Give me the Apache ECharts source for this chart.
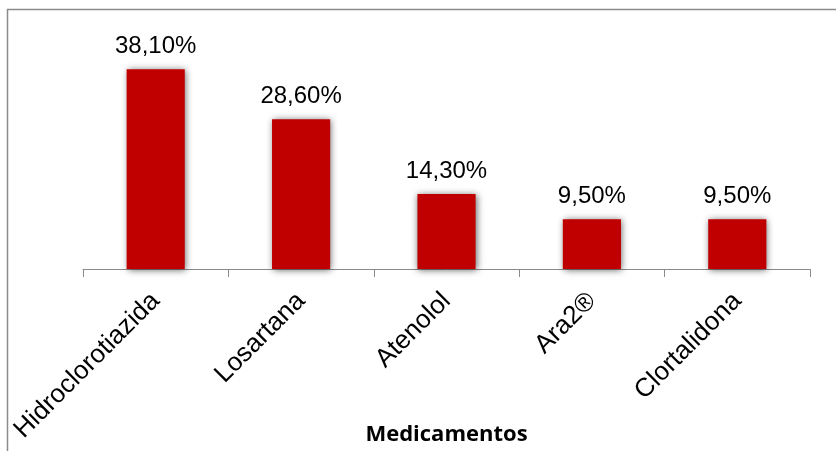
<!DOCTYPE html>
<html>
<head>
<meta charset="utf-8">
<script src="https://cdn.jsdelivr.net/npm/echarts@6/dist/echarts.min.js"></script>
<style>
  html, body { margin: 0; padding: 0; background: #fff; overflow: hidden; }
  #chart { width: 836px; height: 451px; }
</style>
</head>
<body>
<div id="chart"></div>
<script>
// Medication usage shares (percent)
const categories = ['Hidroclorotiazida', 'Losartana', 'Atenolol', 'Ara2®', 'Clortalidona'];
const values = [38.1, 28.6, 14.3, 9.5, 9.5];
const axisTitle = 'Medicamentos';

const chart = echarts.init(document.getElementById('chart'), null, { renderer: 'canvas', width: 836, height: 451 });

chart.setOption({
  animation: false,
  backgroundColor: '#ffffff',
  graphic: [{
    type: 'rect',
    shape: { x: 7.5, y: 9.5, width: 900, height: 500 },
    style: { fill: 'none', stroke: '#8c8c8c', lineWidth: 1.5 },
    silent: true
  }],
  grid: {
    left: 83, right: 26, top: 59.4, bottom: 182,
    containLabel: false,
    outerBoundsMode: 'none'
  },
  xAxis: {
    type: 'category',
    data: categories,
    name: axisTitle,
    nameLocation: 'middle',
    nameGap: 155,
    nameMoveOverlap: false,
    nameTextStyle: { fontFamily: 'Open Sans', fontWeight: 'bold', fontSize: 22, color: '#000' },
    axisLine: { lineStyle: { color: '#8a8a8a', width: 1 } },
    axisTick: { show: true, length: 8, lineStyle: { color: '#8a8a8a' } },
    axisLabel: {
      rotate: 45,
      margin: 28,
      interval: 0,
      fontFamily: 'Liberation Sans',
      fontSize: 26,
      color: '#000'
    }
  },
  yAxis: {
    type: 'value',
    min: 0,
    max: 40,
    show: false,
    splitLine: { show: false }
  },
  series: [{
    type: 'bar',
    data: values,
    barWidth: '40%',
    itemStyle: {
      color: '#c00000',
      shadowColor: 'rgba(0,0,0,0.6)',
      shadowBlur: 7,
      shadowOffsetX: 1,
      shadowOffsetY: 1
    },
    label: {
      show: true,
      position: 'top',
      distance: 11,
      fontFamily: 'Liberation Sans',
      fontSize: 24,
      color: '#000',
      formatter: p => p.value.toFixed(2).replace('.', ',') + '%'
    }
  }]
});
</script>
</body>
</html>
